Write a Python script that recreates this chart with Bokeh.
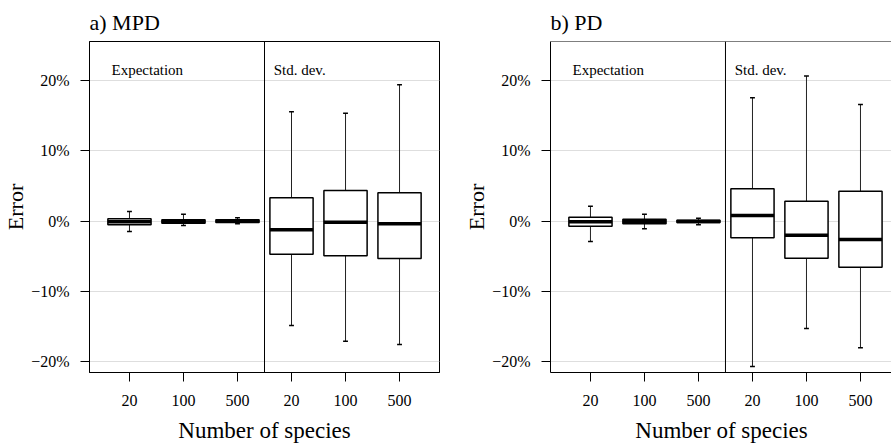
import numpy as np
from bokeh.plotting import figure
from bokeh.models import FixedTicker, Span, Label, ColumnDataSource, Range1d
from bokeh.layouts import row
from bokeh.embed import file_html
from bokeh.resources import INLINE

# ---------------- data ----------------
positions = [1, 2, 3, 4, 5, 6]
species_labels = ["20", "100", "500", "20", "100", "500"]
group_labels = ["Expectation", "Std. dev."]
y_ticks = [-20, -10, 0, 10, 20]
y_tick_labels = ["\u221220%", "\u221210%", "0%", "10%", "20%"]

# a) MPD  (percent error)
mpd_lower = [-1.50, -0.64, -0.40, -14.93, -17.17, -17.64]
mpd_q1 = [-0.54, -0.31, -0.21, -4.74, -4.98, -5.36]
mpd_median = [-0.11, -0.07, -0.03, -1.26, -0.17, -0.41]
mpd_q3 = [0.31, 0.17, 0.17, 3.31, 4.36, 4.02]
mpd_upper = [1.36, 0.97, 0.46, 15.60, 15.40, 19.45]

# b) PD  (percent error)
pd_lower = [-2.93, -1.12, -0.55, -20.80, -15.36, -18.10]
pd_q1 = [-0.74, -0.40, -0.21, -2.40, -5.31, -6.60]
pd_median = [-0.12, -0.07, -0.07, 0.79, -2.03, -2.64]
pd_q3 = [0.54, 0.26, 0.12, 4.60, 2.83, 4.26]
pd_upper = [2.10, 0.97, 0.40, 17.60, 20.70, 16.64]

FONT = '"Liberation Serif", "Times New Roman", serif'
Y0, Y1 = -21.64, 25.64
BOX_W = 0.8
CAP_HW = 0.045


def make_panel(title, lower, q1, med, q3, upper, x_end, frame_w,
               border_left, border_right, full_outline):
    p = figure(output_backend="svg", toolbar_location=None,
               frame_width=frame_w, frame_height=331,
               min_border_left=border_left, min_border_right=border_right,
               min_border_top=41, min_border_bottom=75,
               x_range=Range1d(0.26, x_end), y_range=Range1d(Y0, Y1),
               background_fill_color="white", border_fill_color="white")
    p.title.text = title
    p.title.text_font = FONT
    p.title.text_font_size = "22px"
    p.title.text_font_style = "normal"
    p.title.text_color = "black"
    p.title.align = "left"
    p.title.offset = 0
    p.title.standoff = 13

    if full_outline:
        p.outline_line_color = "black"
        p.outline_line_width = 1
    else:
        p.outline_line_color = None
        p.add_layout(Span(location=Y1, dimension="width",
                          line_color="black", line_width=1))

    p.xgrid.visible = False
    p.ygrid.ticker = FixedTicker(ticks=y_ticks)
    p.ygrid.grid_line_color = "#dedede"
    p.ygrid.grid_line_width = 1

    for ax in (p.xaxis[0], p.yaxis[0]):
        ax.axis_line_color = "black"
        ax.major_tick_line_color = "black"
        ax.major_tick_out = 9
        ax.major_tick_in = 0
        ax.minor_tick_line_color = None
        ax.major_label_text_font = FONT
        ax.major_label_text_font_style = "normal"
        ax.major_label_text_font_size = "16px"
        ax.major_label_text_color = "black"
        ax.axis_label_text_font = FONT
        ax.axis_label_text_font_style = "normal"
        ax.axis_label_text_color = "black"
    p.xaxis.ticker = FixedTicker(ticks=positions)
    p.xaxis.major_label_overrides = {pos: lab for pos, lab in zip(positions, species_labels)}
    p.xaxis.major_label_standoff = 13
    p.xaxis.axis_label = "Number of species"
    p.xaxis.axis_label_text_font_size = "23px"
    p.xaxis.axis_label_standoff = 9
    p.yaxis.ticker = FixedTicker(ticks=y_ticks)
    p.yaxis.major_label_overrides = {t: lab for t, lab in zip(y_ticks, y_tick_labels)}
    p.yaxis.major_label_standoff = 11
    p.yaxis.axis_label = "Error"
    p.yaxis.axis_label_text_font_size = "22px"
    p.yaxis.axis_label_standoff = 0

    src = ColumnDataSource(dict(x=positions, lower=lower, q1=q1, med=med,
                                q3=q3, upper=upper,
                                cl=[x - CAP_HW for x in positions],
                                cr=[x + CAP_HW for x in positions],
                                bl=[x - BOX_W / 2 for x in positions],
                                br=[x + BOX_W / 2 for x in positions]))
    # whiskers
    p.segment(x0="x", y0="q3", x1="x", y1="upper", source=src,
              line_color="#222222", line_width=1)
    p.segment(x0="x", y0="q1", x1="x", y1="lower", source=src,
              line_color="#222222", line_width=1)
    # caps
    p.segment(x0="cl", y0="upper", x1="cr", y1="upper", source=src,
              line_color="black", line_width=1.5)
    p.segment(x0="cl", y0="lower", x1="cr", y1="lower", source=src,
              line_color="black", line_width=1.5)
    # boxes
    p.vbar(x="x", width=BOX_W, bottom="q1", top="q3", source=src,
           fill_color="white", line_color="black", line_width=1.5)
    # medians
    p.segment(x0="bl", y0="med", x1="br", y1="med", source=src,
              line_color="black", line_width=3.5)

    # divider between the two groups
    p.add_layout(Span(location=3.5, dimension="height",
                      line_color="black", line_width=1))

    # group captions
    for gx, txt in zip([0.667, 3.67], group_labels):
        p.add_layout(Label(x=gx, y=21.5, text=txt, text_font=FONT,
                           text_font_size="15px", text_baseline="alphabetic",
                           text_align="left", text_color="black"))
    return p


pa = make_panel("a) MPD", mpd_lower, mpd_q1, mpd_median, mpd_q3, mpd_upper,
                6.74, 350, 88, 20, True)
pb = make_panel("b) PD", pd_lower, pd_q1, pd_median, pd_q3, pd_upper,
                6.593, 342, 91, 0, False)

layout = row(pa, pb)
open("out.html", "w").write(file_html(layout, INLINE))
